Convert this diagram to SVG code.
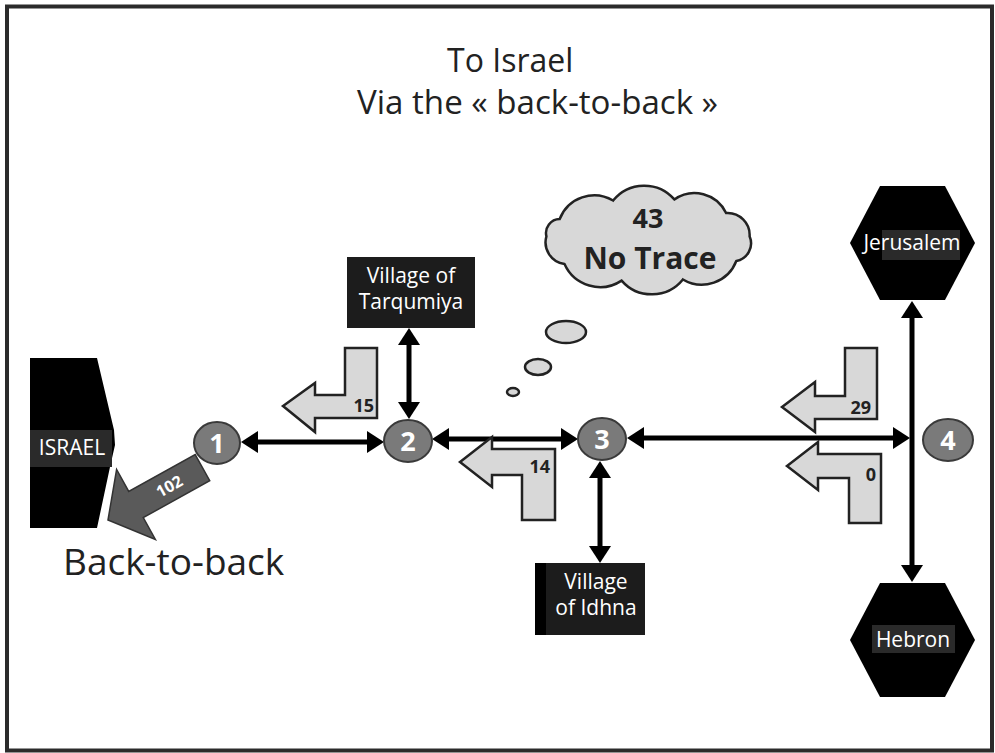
<svg xmlns="http://www.w3.org/2000/svg" width="995" height="753" viewBox="0 0 995 753">
<style>
text{font-family:"Open Sans","Noto Sans","Liberation Sans",sans-serif}
.title{font-size:32px;fill:#222}
.node circle,.node ellipse{fill:#7a7a7a;stroke:#3a3a3a;stroke-width:2}
.num{font-size:27px;font-weight:bold;fill:#fff;text-anchor:middle}
.box{fill:#1c1c1c}
.wt{fill:#fff;font-size:21px;text-anchor:middle}
.turn{fill:#d8d8d8;stroke:#222;stroke-width:2.5;stroke-linejoin:miter}
.cnt{font-size:18px;font-weight:bold;fill:#222;text-anchor:end}
.conn line{stroke:#000;stroke-width:5;marker-start:url(#ah);marker-end:url(#ah)}
.hex{fill:#000}
.cl{fill:#d8d8d8;stroke:#222;stroke-width:2.5}
</style>
<defs>
<marker id="ah" viewBox="0 0 17 22" markerWidth="17" markerHeight="22" refX="12" refY="11" markerUnits="userSpaceOnUse" orient="auto-start-reverse">
<path d="M0,0 L17,11 L0,22 z" fill="#000"/>
</marker>
</defs>
<rect x="7" y="6.5" width="985" height="744" fill="#fff" stroke="#2b2b2b" stroke-width="4"/>

<text class="title" x="447" y="72">To Israel</text>
<text class="title" x="357" y="114" textLength="361" lengthAdjust="spacingAndGlyphs">Via the « back-to-back »</text>

<g id="israel">
<polygon points="30,358 97,358 114,430 115,445 110,467 97,528 30,528" fill="#000"/>
<rect x="30" y="430" width="82" height="37" fill="#2a2a2a"/>
<text class="wt" x="72" y="455">ISRAEL</text>
</g>

<g id="arrow-102" transform="translate(108,520) rotate(-29)">
<polygon points="0,0 32,-40 32,-15 108,-15 108,15 32,15 32,40" fill="#5a5a5a" stroke="#333" stroke-width="1.5"/>
<text x="70" y="6" font-size="16" font-weight="bold" fill="#fff" text-anchor="middle">102</text>
</g>
<text id="back-to-back" x="63" y="575" font-size="37" fill="#222">Back-to-back</text>

<g id="connectors" class="conn">
<line x1="246" y1="442" x2="379" y2="442"/>
<line x1="437" y1="439" x2="573" y2="439"/>
<line x1="632" y1="438" x2="905" y2="438"/>
<line x1="409" y1="333" x2="409" y2="414"/>
<line x1="600" y1="466" x2="600" y2="558"/>
<line x1="912" y1="306" x2="912" y2="577"/>
</g>

<g id="turn-15">
<polygon class="turn" points="345,348 377,348 377,418 315,418 315,432 283,406 315,383 315,395 345,395"/>
<text class="cnt" x="374" y="412" font-weight="normal">15</text>
</g>
<g id="turn-14">
<polygon class="turn" points="492,449 555,449 555,520 522,520 522,475 492,475 492,487 460,462 492,437"/>
<text class="cnt" x="550" y="473">14</text>
</g>
<g id="turn-29">
<polygon class="turn" points="845,348 877,348 877,419 815,419 815,432 782,407 815,382 815,396 845,396"/>
<text class="cnt" x="871" y="414">29</text>
</g>
<g id="turn-0">
<polygon class="turn" points="818,454 881,454 881,523 849,523 849,478 818,478 818,490 787,466 818,442"/>
<text class="cnt" x="876" y="481">0</text>
</g>

<g id="node-1" class="node"><ellipse cx="217" cy="443" rx="23" ry="21"/><text class="num" x="217" y="453">1</text></g>
<g id="node-2" class="node"><ellipse cx="408" cy="441" rx="24" ry="21"/><text class="num" x="408" y="451">2</text></g>
<g id="node-3" class="node"><ellipse cx="602" cy="439" rx="24" ry="21"/><text class="num" x="602" y="449">3</text></g>
<g id="node-4" class="node"><ellipse cx="948" cy="440" rx="25" ry="21"/><text class="num" x="948" y="450">4</text></g>

<g id="tarqumiya">
<rect class="box" x="347" y="257" width="128" height="71"/>
<text class="wt" x="411" y="283">Village of</text>
<text class="wt" x="411" y="309">Tarqumiya</text>
</g>
<g id="idhna">
<rect class="box" x="535" y="563" width="110" height="72"/>
<rect x="535" y="563" width="11" height="72" fill="#000"/>
<text class="wt" x="596" y="589">Village</text>
<text class="wt" x="596" y="615">of Idhna</text>
</g>

<g id="jerusalem">
<polygon class="hex" points="850,243 880,186 945,186 975,243 945,300 880,300"/>
<rect x="882" y="230" width="78" height="30" fill="#2a2a2a"/>
<text class="wt" x="912" y="250">Jerusalem</text>
</g>
<g id="hebron">
<polygon class="hex" points="850,640 880,583 945,583 975,640 945,697 880,697"/>
<rect x="872" y="625" width="83" height="28" fill="#2a2a2a"/>
<text class="wt" x="913" y="647">Hebron</text>
</g>

<g id="cloud">
<path class="cl" d="M559.7,219 A37,37 0 0,1 613.1,200.5 A40,40 0 0,1 674.4,199.4 A35,35 0 0,1 726.1,213 A22,22 0 0,1 749.6,236.3 A18,18 0 0,1 736.3,261 A37,37 0 0,1 682.9,279.5 A40,40 0 0,1 621.6,280.6 A39,39 0 0,1 564.5,264.1 A22,22 0 0,1 546.4,236.3 A14,14 0 0,1 559.7,219 Z"/>
<ellipse class="cl" cx="566" cy="332" rx="20" ry="11"/>
<ellipse class="cl" cx="538" cy="367" rx="13" ry="8"/>
<ellipse class="cl" cx="513" cy="392" rx="6" ry="4"/>
<text x="648" y="228" font-size="27" font-weight="bold" fill="#222" text-anchor="middle">43</text>
<text x="650" y="269" font-size="30" font-weight="bold" fill="#222" text-anchor="middle">No Trace</text>
</g>
</svg>
